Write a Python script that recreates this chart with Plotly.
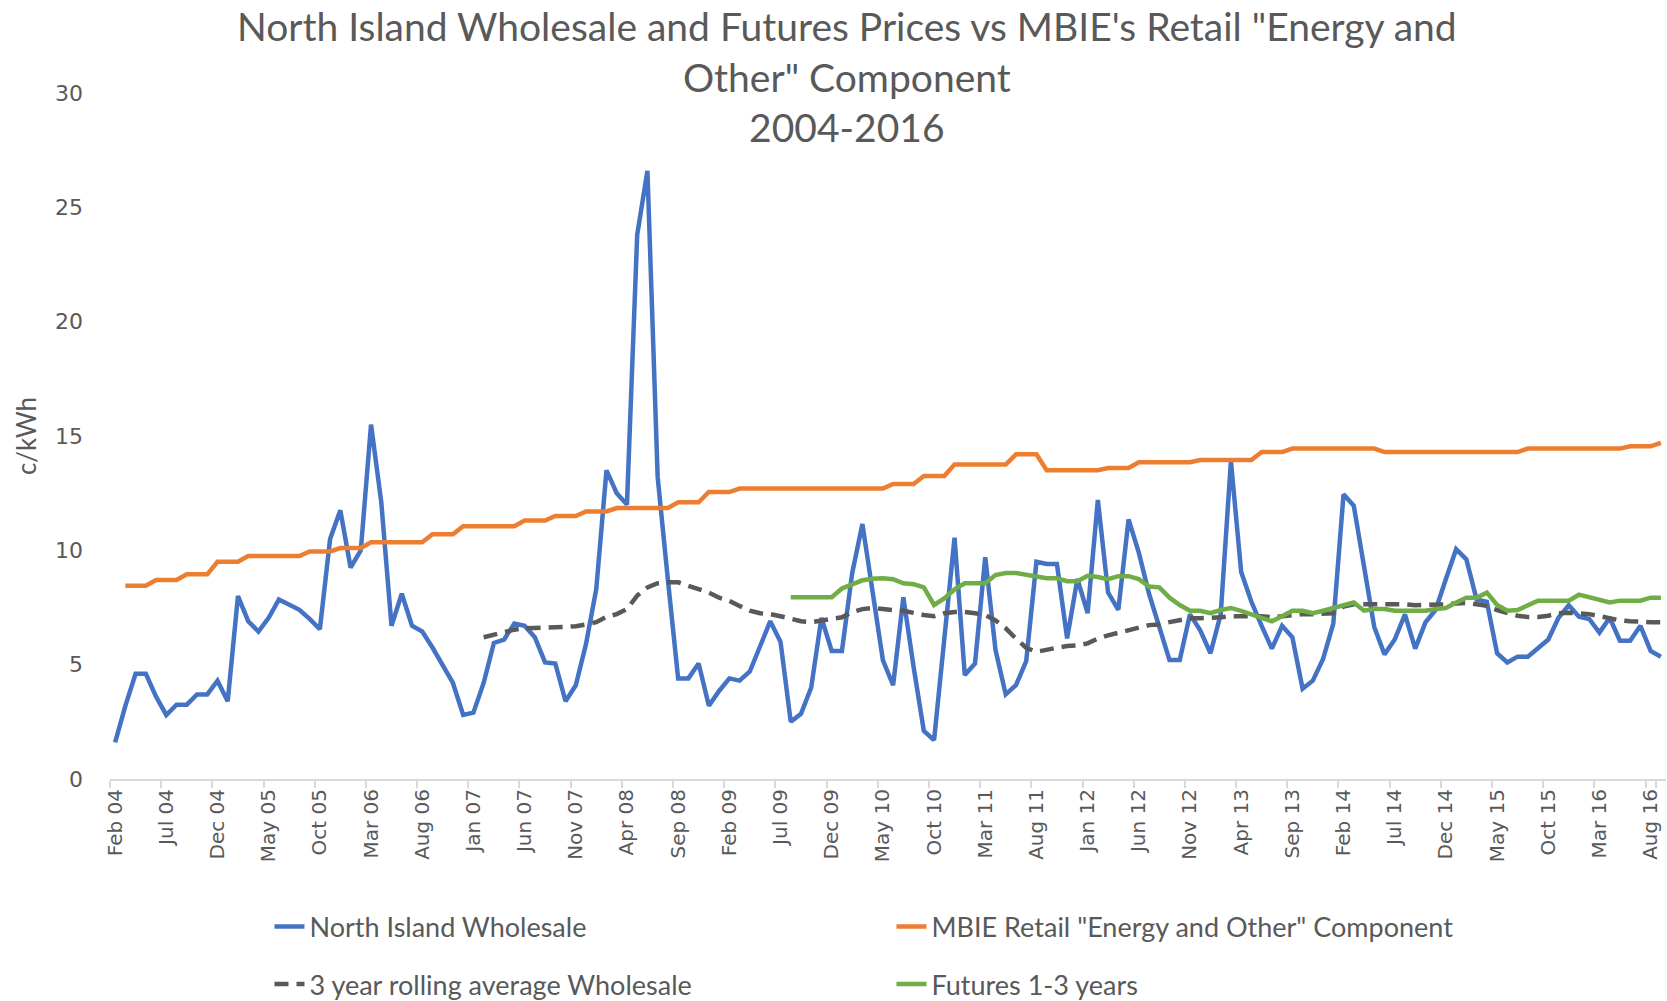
import pandas as pd
import plotly.graph_objects as go

# monthly categories, Feb 2004 .. Sep 2016
MONTHS = [d.strftime("%b %y") for d in pd.date_range("2004-02-01", periods=152, freq="MS")]
TICK_LABELS = MONTHS[::5]

# North Island wholesale, c/kWh (Feb 04 ..)
WHOLESALE = [
    1.6, 3.2, 4.6, 4.6, 3.6, 2.8, 3.25, 3.25, 3.7, 3.7,
    4.3, 3.4, 8.0, 6.9, 6.45, 7.05, 7.85, 7.6, 7.4, 7.0,
    6.55, 10.5, 11.75, 9.25, 10.0, 15.5, 12.1, 6.7, 8.1, 6.7,
    6.45, 5.75, 5.0, 4.2, 2.8, 2.9, 4.2, 5.95, 6.1, 6.8,
    6.7, 6.2, 5.1, 5.05, 3.4, 4.1, 5.9, 8.3, 13.5, 12.5,
    12.0, 23.8, 26.6, 13.2, 8.7, 4.4, 4.4, 5.05, 3.2, 3.85,
    4.4, 4.3, 4.7, 5.8, 6.9, 6.0, 2.5, 2.85, 4.0, 7.05,
    5.6, 5.6, 9.0, 11.15, 8.15, 5.2, 4.1, 7.95, 4.9, 2.1,
    1.7, 6.1, 10.55, 4.55, 5.05, 9.7, 5.65, 3.7, 4.1, 5.15,
    9.5, 9.4, 9.4, 6.15, 8.75, 7.25, 12.2, 8.15, 7.4, 11.35,
    9.9, 8.1, 6.6, 5.2, 5.2, 7.2, 6.5, 5.5, 7.2, 13.9,
    9.05, 7.75, 6.7, 5.7, 6.7, 6.2, 3.95, 4.3, 5.25, 6.8,
    12.45, 11.95, 9.3, 6.65, 5.45, 6.1, 7.2, 5.7, 6.85, 7.4,
    8.75, 10.05, 9.6, 7.85, 7.75, 5.5, 5.1, 5.35, 5.35, 5.75,
    6.1, 7.05, 7.6, 7.1, 7.0, 6.4, 7.05, 6.05, 6.05, 6.7,
    5.6, 5.35,
]

# MBIE retail "Energy and Other" component (Mar 04 ..)
MBIE_RETAIL = [
    8.45, 8.45, 8.45, 8.7, 8.7, 8.7, 8.95, 8.95, 8.95, 9.5,
    9.5, 9.5, 9.75, 9.75, 9.75, 9.75, 9.75, 9.75, 9.95, 9.95,
    9.95, 10.1, 10.1, 10.1, 10.35, 10.35, 10.35, 10.35, 10.35, 10.35,
    10.7, 10.7, 10.7, 11.05, 11.05, 11.05, 11.05, 11.05, 11.05, 11.3,
    11.3, 11.3, 11.5, 11.5, 11.5, 11.7, 11.7, 11.7, 11.85, 11.85,
    11.85, 11.85, 11.85, 11.85, 12.1, 12.1, 12.1, 12.55, 12.55, 12.55,
    12.7, 12.7, 12.7, 12.7, 12.7, 12.7, 12.7, 12.7, 12.7, 12.7,
    12.7, 12.7, 12.7, 12.7, 12.7, 12.9, 12.9, 12.9, 13.25, 13.25,
    13.25, 13.75, 13.75, 13.75, 13.75, 13.75, 13.75, 14.2, 14.2, 14.2,
    13.5, 13.5, 13.5, 13.5, 13.5, 13.5, 13.6, 13.6, 13.6, 13.85,
    13.85, 13.85, 13.85, 13.85, 13.85, 13.95, 13.95, 13.95, 13.95, 13.95,
    13.95, 14.3, 14.3, 14.3, 14.45, 14.45, 14.45, 14.45, 14.45, 14.45,
    14.45, 14.45, 14.45, 14.3, 14.3, 14.3, 14.3, 14.3, 14.3, 14.3,
    14.3, 14.3, 14.3, 14.3, 14.3, 14.3, 14.3, 14.45, 14.45, 14.45,
    14.45, 14.45, 14.45, 14.45, 14.45, 14.45, 14.45, 14.55, 14.55, 14.55,
    14.7,
]

# 3 year rolling average of wholesale (Feb 07 ..)
ROLLING_AVG = [
    6.2, 6.32, 6.41, 6.53, 6.59, 6.62, 6.64, 6.64, 6.65, 6.68,
    6.76, 6.86, 7.09, 7.21, 7.43, 8.02, 8.38, 8.56, 8.6, 8.6,
    8.45, 8.3, 8.15, 7.93, 7.79, 7.57, 7.36, 7.25, 7.21, 7.12,
    7.0, 6.9, 6.86, 6.94, 7.03, 7.07, 7.3, 7.43, 7.48, 7.42,
    7.38, 7.36, 7.25, 7.17, 7.12, 7.25, 7.3, 7.3, 7.25, 7.17,
    6.94, 6.59, 6.14, 5.74, 5.56, 5.63, 5.74, 5.82, 5.84, 5.93,
    6.14, 6.28, 6.41, 6.53, 6.62, 6.73, 6.76, 6.86, 6.94, 7.03,
    7.03, 7.03, 7.07, 7.12, 7.12, 7.12, 7.12, 7.07, 7.12, 7.17,
    7.21, 7.21, 7.21, 7.25, 7.54, 7.64, 7.64, 7.64, 7.66, 7.68,
    7.64, 7.6, 7.6, 7.6, 7.64, 7.68, 7.7, 7.64, 7.57, 7.39,
    7.25, 7.14, 7.09, 7.09, 7.14, 7.25, 7.27, 7.25, 7.21, 7.12,
    7.03, 6.94, 6.9, 6.86, 6.86, 6.86,
]

# Futures 1-3 years (Aug 09 ..)
FUTURES = [
    7.95, 7.95, 7.95, 7.95, 7.95, 8.33, 8.5, 8.69, 8.76, 8.78,
    8.74, 8.56, 8.52, 8.38, 7.61, 7.9, 8.29, 8.56, 8.56, 8.56,
    8.92, 9.01, 9.01, 8.92, 8.83, 8.78, 8.78, 8.65, 8.65, 8.89,
    8.83, 8.74, 8.87, 8.87, 8.74, 8.42, 8.38, 7.93, 7.61, 7.36,
    7.36, 7.25, 7.39, 7.48, 7.35, 7.2, 7.1, 6.9, 7.12, 7.36,
    7.36, 7.25, 7.36, 7.48, 7.64, 7.72, 7.36, 7.43, 7.43, 7.36,
    7.36, 7.36, 7.36, 7.43, 7.48, 7.72, 7.93, 7.93, 8.15, 7.61,
    7.36, 7.39, 7.61, 7.8, 7.8, 7.8, 7.8, 8.06, 7.93, 7.8,
    7.72, 7.8, 7.8, 7.8, 7.93, 7.93,
]

TEXT = "#595959"
TITLE_FONT = "Lato, Carlito, Calibri, sans-serif"
TICK_FONT = "DejaVu Sans, Verdana, sans-serif"

fig = go.Figure()
fig.add_trace(go.Scatter(
    x=MONTHS, y=WHOLESALE, name="North Island Wholesale", mode="lines",
    line=dict(color="#4472C4", width=4.5), legend="legend",
))
fig.add_trace(go.Scatter(
    x=MONTHS[-len(MBIE_RETAIL):], y=MBIE_RETAIL,
    name='MBIE Retail "Energy and Other" Component', mode="lines",
    line=dict(color="#ED7D31", width=4.5), legend="legend",
))
fig.add_trace(go.Scatter(
    x=MONTHS[-len(ROLLING_AVG):], y=ROLLING_AVG,
    name="3 year rolling average Wholesale", mode="lines",
    line=dict(color="#595959", width=4.5, dash="14px,8px"), legend="legend2",
))
fig.add_trace(go.Scatter(
    x=MONTHS[-len(FUTURES):], y=FUTURES, name="Futures 1-3 years", mode="lines",
    line=dict(color="#70AD47", width=4.5), legend="legend2",
))

legend_style = dict(
    orientation="h", xanchor="left", yanchor="middle", x=0.1025,
    font=dict(family=TITLE_FONT, size=27, color=TEXT),
    entrywidth=577, entrywidthmode="pixels", bgcolor="rgba(0,0,0,0)",
)

fig.update_layout(
    width=1667, height=1001,
    margin=dict(l=110, r=1, t=93, b=222, autoexpand=False),
    paper_bgcolor="white", plot_bgcolor="white",
    title=dict(
        text='North Island Wholesale and Futures Prices vs MBIE\'s Retail "Energy and'
             '<br>Other" Component<br>2004-2016',
        x=0.508, xanchor="center", y=0.959, yanchor="top",
        font=dict(family=TITLE_FONT, size=39, color=TEXT),
    ),
    xaxis=dict(
        type="category", range=[-0.5, 151.5],
        tickmode="array", tickvals=TICK_LABELS, tickson="boundaries",
        tickangle=-90, ticks="outside", ticklen=7, tickwidth=1.5, tickcolor="#D9D9D9",
        showline=True, linecolor="#D9D9D9", linewidth=2,
        showgrid=False, automargin=False,
        tickfont=dict(family=TICK_FONT, size=20, color=TEXT),
    ),
    yaxis=dict(
        range=[0, 30], dtick=5, showgrid=False, showline=False, zeroline=False,
        ticks="", ticklabelstandoff=26, automargin=False,
        tickfont=dict(family=TICK_FONT, size=22, color=TEXT),
        title=dict(text="c/kWh", standoff=10,
                   font=dict(family=TITLE_FONT, size=26, color=TEXT)),
    ),
    legend=dict(legend_style, y=-0.2157),
    legend2=dict(legend_style, y=-0.2996),
)

fig.write_html(
    "out.html",
    config={"displayModeBar": False},
    post_script="document.body.style.margin = '0';",
)
